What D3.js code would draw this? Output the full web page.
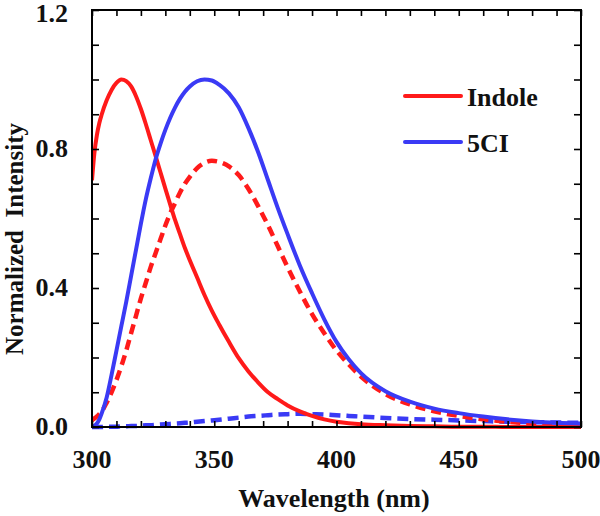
<!DOCTYPE html>
<html>
<head>
<meta charset="utf-8">
<script src="https://cdn.jsdelivr.net/npm/d3@7/dist/d3.min.js"></script>
<style>
  html, body { margin: 0; padding: 0; background: #fff; }
  svg { display: block; }
  text { font-family: "Liberation Serif", "Times New Roman", "DejaVu Serif", serif; font-weight: bold; fill: #111; }
</style>
</head>
<body>
<svg id="chart" width="600" height="516"></svg>
<script>
// ---- data ----
const wavelength = [300,301,302,303,304,306,308,310,312,314,316,318,320,322,324,326,328,330,332,334,336,338,340,343,346,349,352,356,360,364,368,372,376,380,385,390,395,400,405,410,420,430,440,450,460,470,480,490,500];
const indoleSolid = [0.71,0.79,0.84,0.875,0.90,0.94,0.97,0.99,1.0,0.995,0.98,0.952,0.915,0.872,0.826,0.78,0.733,0.686,0.64,0.595,0.555,0.515,0.48,0.43,0.38,0.335,0.295,0.245,0.198,0.16,0.128,0.10,0.08,0.062,0.045,0.032,0.022,0.015,0.011,0.008,0.005,0.003,0.002,0.001,0.001,0,0,0,0];
const indoleDashed = [0.02,0.025,0.03,0.037,0.045,0.07,0.10,0.135,0.175,0.22,0.27,0.32,0.37,0.415,0.46,0.50,0.54,0.58,0.615,0.645,0.675,0.70,0.72,0.745,0.76,0.766,0.763,0.75,0.725,0.685,0.635,0.58,0.52,0.46,0.39,0.325,0.27,0.22,0.18,0.145,0.095,0.065,0.045,0.032,0.022,0.015,0.01,0.007,0.005];
const cl5Solid = [0,0.003,0.01,0.022,0.04,0.085,0.15,0.22,0.29,0.36,0.435,0.51,0.585,0.655,0.715,0.77,0.815,0.855,0.89,0.92,0.945,0.965,0.98,0.995,1.0,0.997,0.985,0.96,0.92,0.86,0.79,0.71,0.63,0.555,0.465,0.385,0.31,0.245,0.195,0.155,0.103,0.073,0.053,0.04,0.03,0.022,0.016,0.012,0.01];
const cl5Dashed = [0,0,0,0,0,0.001,0.001,0.001,0.002,0.002,0.003,0.003,0.004,0.005,0.005,0.006,0.007,0.008,0.009,0.01,0.011,0.012,0.013,0.015,0.017,0.019,0.021,0.024,0.027,0.03,0.032,0.034,0.036,0.037,0.038,0.037,0.036,0.034,0.032,0.03,0.026,0.023,0.021,0.019,0.017,0.015,0.014,0.013,0.012];
const xTicks = [300,350,400,450,500];
const yTicks = [0.0,0.4,0.8,1.2];
const legendLabels = ["Indole","5CI"];

const RED = "#ff1a1a", BLUE = "#3a3af5";

// ---- layout ----
const svg = d3.select("#chart");
const L = 92, R = 581, T = 10, B = 427;
const x = d3.scaleLinear().domain([300,500]).range([L,R]);
const y = d3.scaleLinear().domain([0,1.2]).range([B,T]);

svg.append("clipPath").attr("id","clip").append("rect")
  .attr("x",L).attr("y",T-3).attr("width",R-L).attr("height",B-T+6);

const line = d3.line().x((d,i)=>x(wavelength[i])).y(d=>y(d)).curve(d3.curveMonotoneX);
const g = svg.append("g").attr("clip-path","url(#clip)");

g.append("path").datum(cl5Dashed).attr("d",line).attr("fill","none")
  .attr("stroke",BLUE).attr("stroke-width",4.5).attr("stroke-dasharray","11,6");
g.append("path").datum(indoleDashed).attr("d",line).attr("fill","none")
  .attr("stroke",RED).attr("stroke-width",4.5).attr("stroke-dasharray","10,6");
g.append("path").datum(indoleSolid).attr("d",line).attr("fill","none")
  .attr("stroke",RED).attr("stroke-width",4);
g.append("path").datum(cl5Solid).attr("d",line).attr("fill","none")
  .attr("stroke",BLUE).attr("stroke-width",4);

// ---- axes ----
const minorX = d3.range(300,501,10);
const minorY = d3.range(0,1.2001,0.1);
svg.append("g").attr("transform",`translate(0,${B})`)
  .call(d3.axisBottom(x).tickValues(minorX).tickSize(-6).tickFormat(""))
  .call(a=>a.select(".domain").remove());
svg.append("g").attr("transform",`translate(0,${T})`)
  .call(d3.axisTop(x).tickValues(minorX).tickSize(-6).tickFormat(""))
  .call(a=>a.select(".domain").remove());
svg.append("g").attr("transform",`translate(${L},0)`)
  .call(d3.axisLeft(y).tickValues(minorY).tickSize(-7).tickFormat(""))
  .call(a=>a.select(".domain").remove());
svg.append("g").attr("transform",`translate(${R},0)`)
  .call(d3.axisRight(y).tickValues(minorY).tickSize(-7).tickFormat(""))
  .call(a=>a.select(".domain").remove());
svg.selectAll(".tick line").attr("stroke","#000").attr("stroke-width",1.6);

svg.append("rect").attr("x",L).attr("y",T).attr("width",R-L).attr("height",B-T)
  .attr("fill","none").attr("stroke","#000").attr("stroke-width",2);

// tick labels
svg.append("g").selectAll("text").data(xTicks).join("text")
  .attr("x",d=>x(d)).attr("y",468).attr("text-anchor","middle")
  .attr("font-size",26).text(d=>d);
svg.append("g").selectAll("text").data(yTicks).join("text")
  .attr("x",68).attr("y",d=>Math.max(y(d)+8, 22)).attr("text-anchor","end")
  .attr("font-size",26).text(d=>d.toFixed(1));

// axis titles
svg.append("text").attr("x",334).attr("y",507).attr("text-anchor","middle")
  .attr("font-size",26).text("Wavelength (nm)");
svg.append("text").attr("transform","translate(23,239) rotate(-90)")
  .attr("text-anchor","middle").attr("font-size",25)
  .attr("xml:space","preserve").style("white-space","pre")
  .text("Normalized  Intensity");

// legend
const legColors = [RED, BLUE];
const legY = [96, 142];
const leg = svg.append("g");
legendLabels.forEach((lab,i)=>{
  leg.append("line").attr("x1",405).attr("x2",461).attr("y1",legY[i]).attr("y2",legY[i])
    .attr("stroke",legColors[i]).attr("stroke-width",4).attr("stroke-linecap","round");
  leg.append("text").attr("x",467).attr("y",legY[i]+10).attr("font-size",26).text(lab);
});
</script>
</body>
</html>
